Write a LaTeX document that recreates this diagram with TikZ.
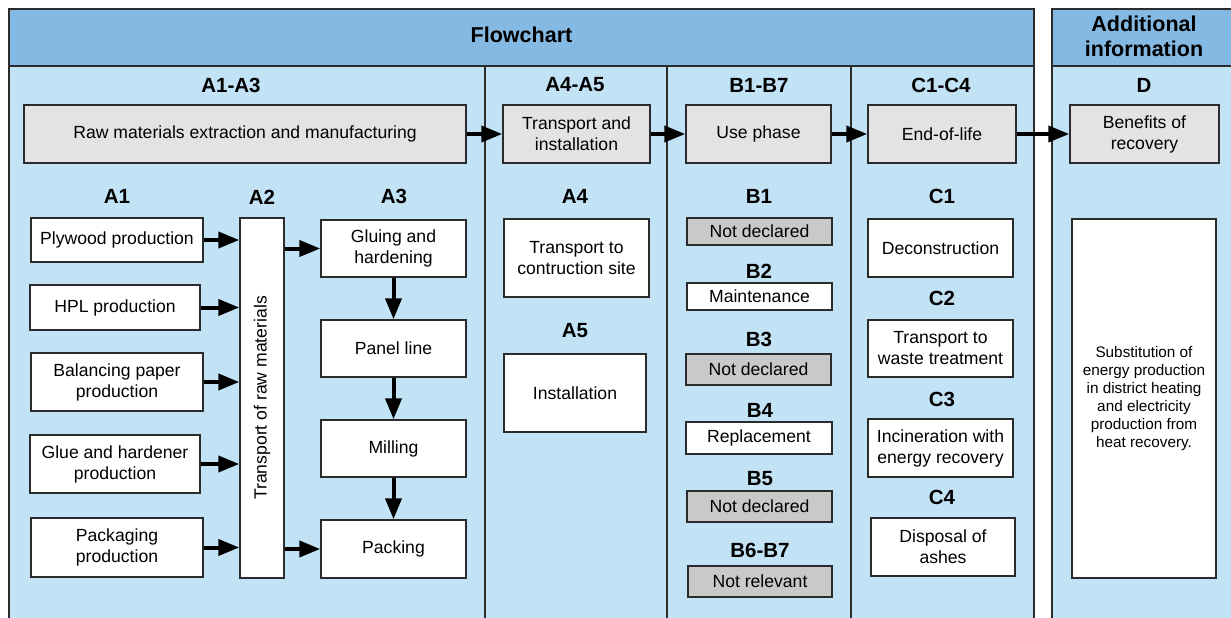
\documentclass[tikz,border=0pt]{standalone}
\usepackage{fontspec}
\setmainfont{Liberation Sans}
\usetikzlibrary{arrows.meta}

\definecolor{headblue}{HTML}{84B9E3}
\definecolor{bodyblue}{HTML}{C2E2F5}
\definecolor{topgrey}{HTML}{E3E3E3}
\definecolor{ndgrey}{HTML}{C9C9C9}
\definecolor{linec}{HTML}{2B2B2B}

\newcommand{\bodyfont}{\fontsize{17.6}{21}\selectfont}
\newcommand{\smallbody}{\fontsize{15.3}{18}\selectfont}
\newcommand{\lblfont}{\fontsize{20.5}{24}\selectfont\bfseries}

\tikzset{
  box/.style={draw=linec,line width=1.5pt,fill=white,align=center,
    inner sep=2pt,font=\bodyfont},
  topbox/.style={box,fill=topgrey},
  ndbox/.style={box,fill=ndgrey},
  lbl/.style={font=\lblfont,inner sep=0pt},
  arr/.style={line width=4pt,-{Triangle[length=21pt,width=16pt]}},
  frame/.style={draw=linec,line width=1.5pt}
}

\begin{document}
\begin{tikzpicture}[x=1pt,y=-1pt]
  \useasboundingbox (0,0) rectangle (1231,618);
  \clip (0,0) rectangle (1231,618);
  % frames
  \fill[white] (0,0) rectangle (1231,618);
  \fill[bodyblue] (9,66) rectangle (1034,640);
  \fill[headblue] (9,9) rectangle (1034,66);
  \fill[bodyblue] (1052,66) rectangle (1245,640);
  \fill[headblue] (1052,9) rectangle (1245,66);
  \draw[frame] (9,640) -- (9,9) -- (1034,9) -- (1034,640);
  \draw[frame] (9,66) -- (1034,66);
  \draw[frame] (1052,640) -- (1052,9) -- (1245,9);
  \draw[frame] (1052,66) -- (1245,66);
  \foreach \xx in {485,667,851}
    \draw[frame] (\xx,66) -- (\xx,640);
  \node[lbl,font=\fontsize{21.5}{25}\selectfont\bfseries] (flow) at (521.5,35) {Flowchart};
  \node[lbl,align=center,font=\fontsize{21.5}{25}\selectfont\bfseries] (addinfo) at (1144,36) {Additional\\information};

  % module headings
  \node[lbl] (hA13) at (231,85) {A1-A3};
  \node[lbl] (hA45) at (575,85) {A4-A5};
  \node[lbl] (hB17) at (759,85) {B1-B7};
  \node[lbl] (hC14) at (941,85) {C1-C4};
  \node[lbl] (hD)   at (1144,85) {D};

  % top row
  \node[topbox,minimum width=442pt,minimum height=58pt] (raw)   at (245,134) {Raw materials extraction and manufacturing};
  \node[topbox,minimum width=147pt,minimum height=58pt] (trans) at (576.5,134) {Transport and\\installation};
  \node[topbox,minimum width=145pt,minimum height=58pt] (use)   at (758.5,134) {Use phase};
  \node[topbox,minimum width=148pt,minimum height=58pt] (eol)   at (942,134) {End-of-life};
  \node[topbox,minimum width=149pt,minimum height=58pt] (ben)   at (1144.5,134) {Benefits of\\recovery};
  \draw[arr] (raw) -- (trans);
  \draw[arr] (trans) -- (use);
  \draw[arr] (use) -- (eol);
  \draw[arr] (eol) -- (ben);

  % A1-A3
  \node[lbl] (hA1) at (117,196) {A1};
  \node[lbl] (hA2) at (262,197) {A2};
  \node[lbl] (hA3) at (394,196) {A3};
  \node[box,minimum width=172pt,minimum height=44pt] (ply) at (117,240) {Plywood production};
  \node[box,minimum width=170pt,minimum height=45pt] (hpl) at (115,307.5) {HPL production};
  \node[box,minimum width=172pt,minimum height=58pt] (bal) at (117,382) {Balancing paper\\production};
  \node[box,minimum width=170pt,minimum height=58pt] (glh) at (115,464) {Glue and hardener\\production};
  \node[box,minimum width=172pt,minimum height=59pt] (pkg) at (117,547.5) {Packaging\\production};
  \node[box,minimum width=44pt,minimum height=360pt] (tra) at (262,398) {};
  \node[rotate=90,font=\bodyfont,inner sep=0pt] (tratext) at (tra.center) {Transport of raw materials};
  \node[box,minimum width=145pt,minimum height=57pt] (gh)   at (393.5,248.5) {Gluing and\\hardening};
  \node[box,minimum width=145pt,minimum height=57pt] (pl)   at (393.5,348.5) {Panel line};
  \node[box,minimum width=145pt,minimum height=57pt] (mil)  at (393.5,448.5) {Milling};
  \node[box,minimum width=145pt,minimum height=58pt] (pack) at (393.5,549) {Packing};
  \foreach \src in {ply,hpl,bal,glh,pkg}
    \draw[arr] (\src.east) -- (\src.east -| tra.west);
  \draw[arr] (gh.west -| tra.east) -- (gh.west);
  \draw[arr] (pack.west -| tra.east) -- (pack.west);
  \draw[arr] (gh) -- (pl);
  \draw[arr] (pl) -- (mil);
  \draw[arr] (mil) -- (pack);

  % A4-A5
  \node[lbl] (hA4) at (575,196) {A4};
  \node[box,minimum width=145pt,minimum height=78pt] (site) at (576.5,258) {Transport to\\contruction site};
  \node[lbl] (hA5) at (575,331) {A5};
  \node[box,minimum width=142pt,minimum height=78pt] (inst) at (575,393) {Installation};

  % B1-B7
  \node[lbl] (hB1) at (759,196) {B1};
  \node[ndbox,minimum width=145pt,minimum height=27pt] (b1) at (759.5,231.5) {Not declared};
  \node[lbl] (hB2) at (759,271) {B2};
  \node[box,minimum width=145pt,minimum height=27pt] (b2) at (759.5,296.5) {Maintenance};
  \node[lbl] (hB3) at (759,339) {B3};
  \node[ndbox,minimum width=145pt,minimum height=31pt] (b3) at (758.5,369.5) {Not declared};
  \node[lbl] (hB4) at (760,410) {B4};
  \node[box,minimum width=146pt,minimum height=32pt] (b4) at (759,438) {Replacement};
  \node[lbl] (hB5) at (760,479) {B5};
  \node[ndbox,minimum width=145pt,minimum height=31pt] (b5) at (759.5,506.5) {Not declared};
  \node[lbl] (hB67) at (760,550) {B6-B7};
  \node[ndbox,minimum width=144pt,minimum height=31pt] (b67) at (760,581.5) {Not relevant};

  % C1-C4
  \node[lbl] (hC1) at (942,196) {C1};
  \node[box,minimum width=145pt,minimum height=58pt] (c1) at (940.5,248) {Deconstruction};
  \node[lbl] (hC2) at (942,298) {C2};
  \node[box,minimum width=145pt,minimum height=57pt] (c2) at (940.5,348.5) {Transport to\\waste treatment};
  \node[lbl] (hC3) at (942,399) {C3};
  \node[box,minimum width=145pt,minimum height=58pt] (c3) at (940.5,448) {Incineration with\\energy recovery};
  \node[lbl] (hC4) at (942,497) {C4};
  \node[box,minimum width=144pt,minimum height=58pt] (c4) at (943,547) {Disposal of\\ashes};

  % D
  \node[box,font=\smallbody,minimum width=144pt,minimum height=359pt] (subst) at (1144,398.5)
    {Substitution of\\energy production\\in district heating\\and electricity\\production from\\heat recovery.};
\end{tikzpicture}
\end{document}
